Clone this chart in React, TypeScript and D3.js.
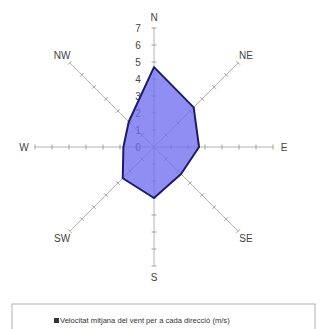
import React from 'react';
import * as d3 from 'd3';

const directions = ['N', 'NE', 'E', 'SE', 'S', 'SW', 'W', 'NW'];
const speeds = [4.7, 3.3, 2.65, 2.25, 3.0, 2.6, 1.8, 2.1];
const tickValues = [0, 1, 2, 3, 4, 5, 6, 7];
const legendLabel = 'Velocitat mitjana del vent per a cada direcció (m/s)';

const W = 321;
const H = 329;
const cx = 154;
const cy = 147;

export default function App() {
  const r = d3.scaleLinear().domain([0, 7]).range([0, 119]);
  const angle = d3.scalePoint<string>().domain(directions).range([0, 2 * Math.PI * 7 / 8]);

  const pt = (dir: string, v: number): [number, number] => {
    const a = angle(dir)!;
    return [Math.sin(a) * r(v), -Math.cos(a) * r(v)];
  };

  const line = d3.lineRadial<number>()
    .angle((d, i) => angle(directions[i])!)
    .radius(d => r(d))
    .curve(d3.curveLinearClosed);

  return (
    <svg width={W} height={H} style={{ position: 'absolute', left: 0, top: 0, background: '#fff' }}
      fontFamily="Liberation Sans, Arial, sans-serif">
      <g transform={`translate(${cx},${cy})`}>
        {directions.map(dir => {
          const [x2, y2] = pt(dir, 7);
          const a = angle(dir)!;
          const px = Math.cos(a), py = Math.sin(a);
          return (
            <g key={dir}>
              <line x1={0} y1={0} x2={x2} y2={y2} stroke="#b4b4b4" strokeWidth={1} />
              {tickValues.slice(1).map(t => {
                const [tx, ty] = pt(dir, t);
                return <line key={t} x1={tx - px * 2.5} y1={ty - py * 2.5} x2={tx + px * 2.5} y2={ty + py * 2.5}
                  stroke="#a0a0a0" strokeWidth={1} />;
              })}
            </g>
          );
        })}
        {tickValues.map(t => (
          <text key={t} x={-16} y={-r(t) + 3.5} fontSize={10} fill="#444" textAnchor="middle">{t}</text>
        ))}
        <path d={line(speeds) || ''} fill="#7070f0" fillOpacity={0.78} stroke="#1c1c6a" strokeWidth={2} strokeLinejoin="round" />
        {directions.map(dir => {
          const [x, y] = pt(dir, 7);
          const a = angle(dir)!;
          const ox = Math.sin(a) * 11, oy = -Math.cos(a) * 11;
          return <text key={dir} x={x + ox} y={y + oy + 3.5} fontSize={10} fill="#444" textAnchor="middle">{dir}</text>;
        })}
      </g>
      <rect x={12} y={304} width={303} height={40} fill="none" stroke="#b0b0b0" strokeWidth={1} />
      <rect x={54} y={318} width={5} height={5} fill="#333" />
      <text x={60} y={323} fontSize={7.6} fill="#333">{legendLabel}</text>
    </svg>
  );
}
